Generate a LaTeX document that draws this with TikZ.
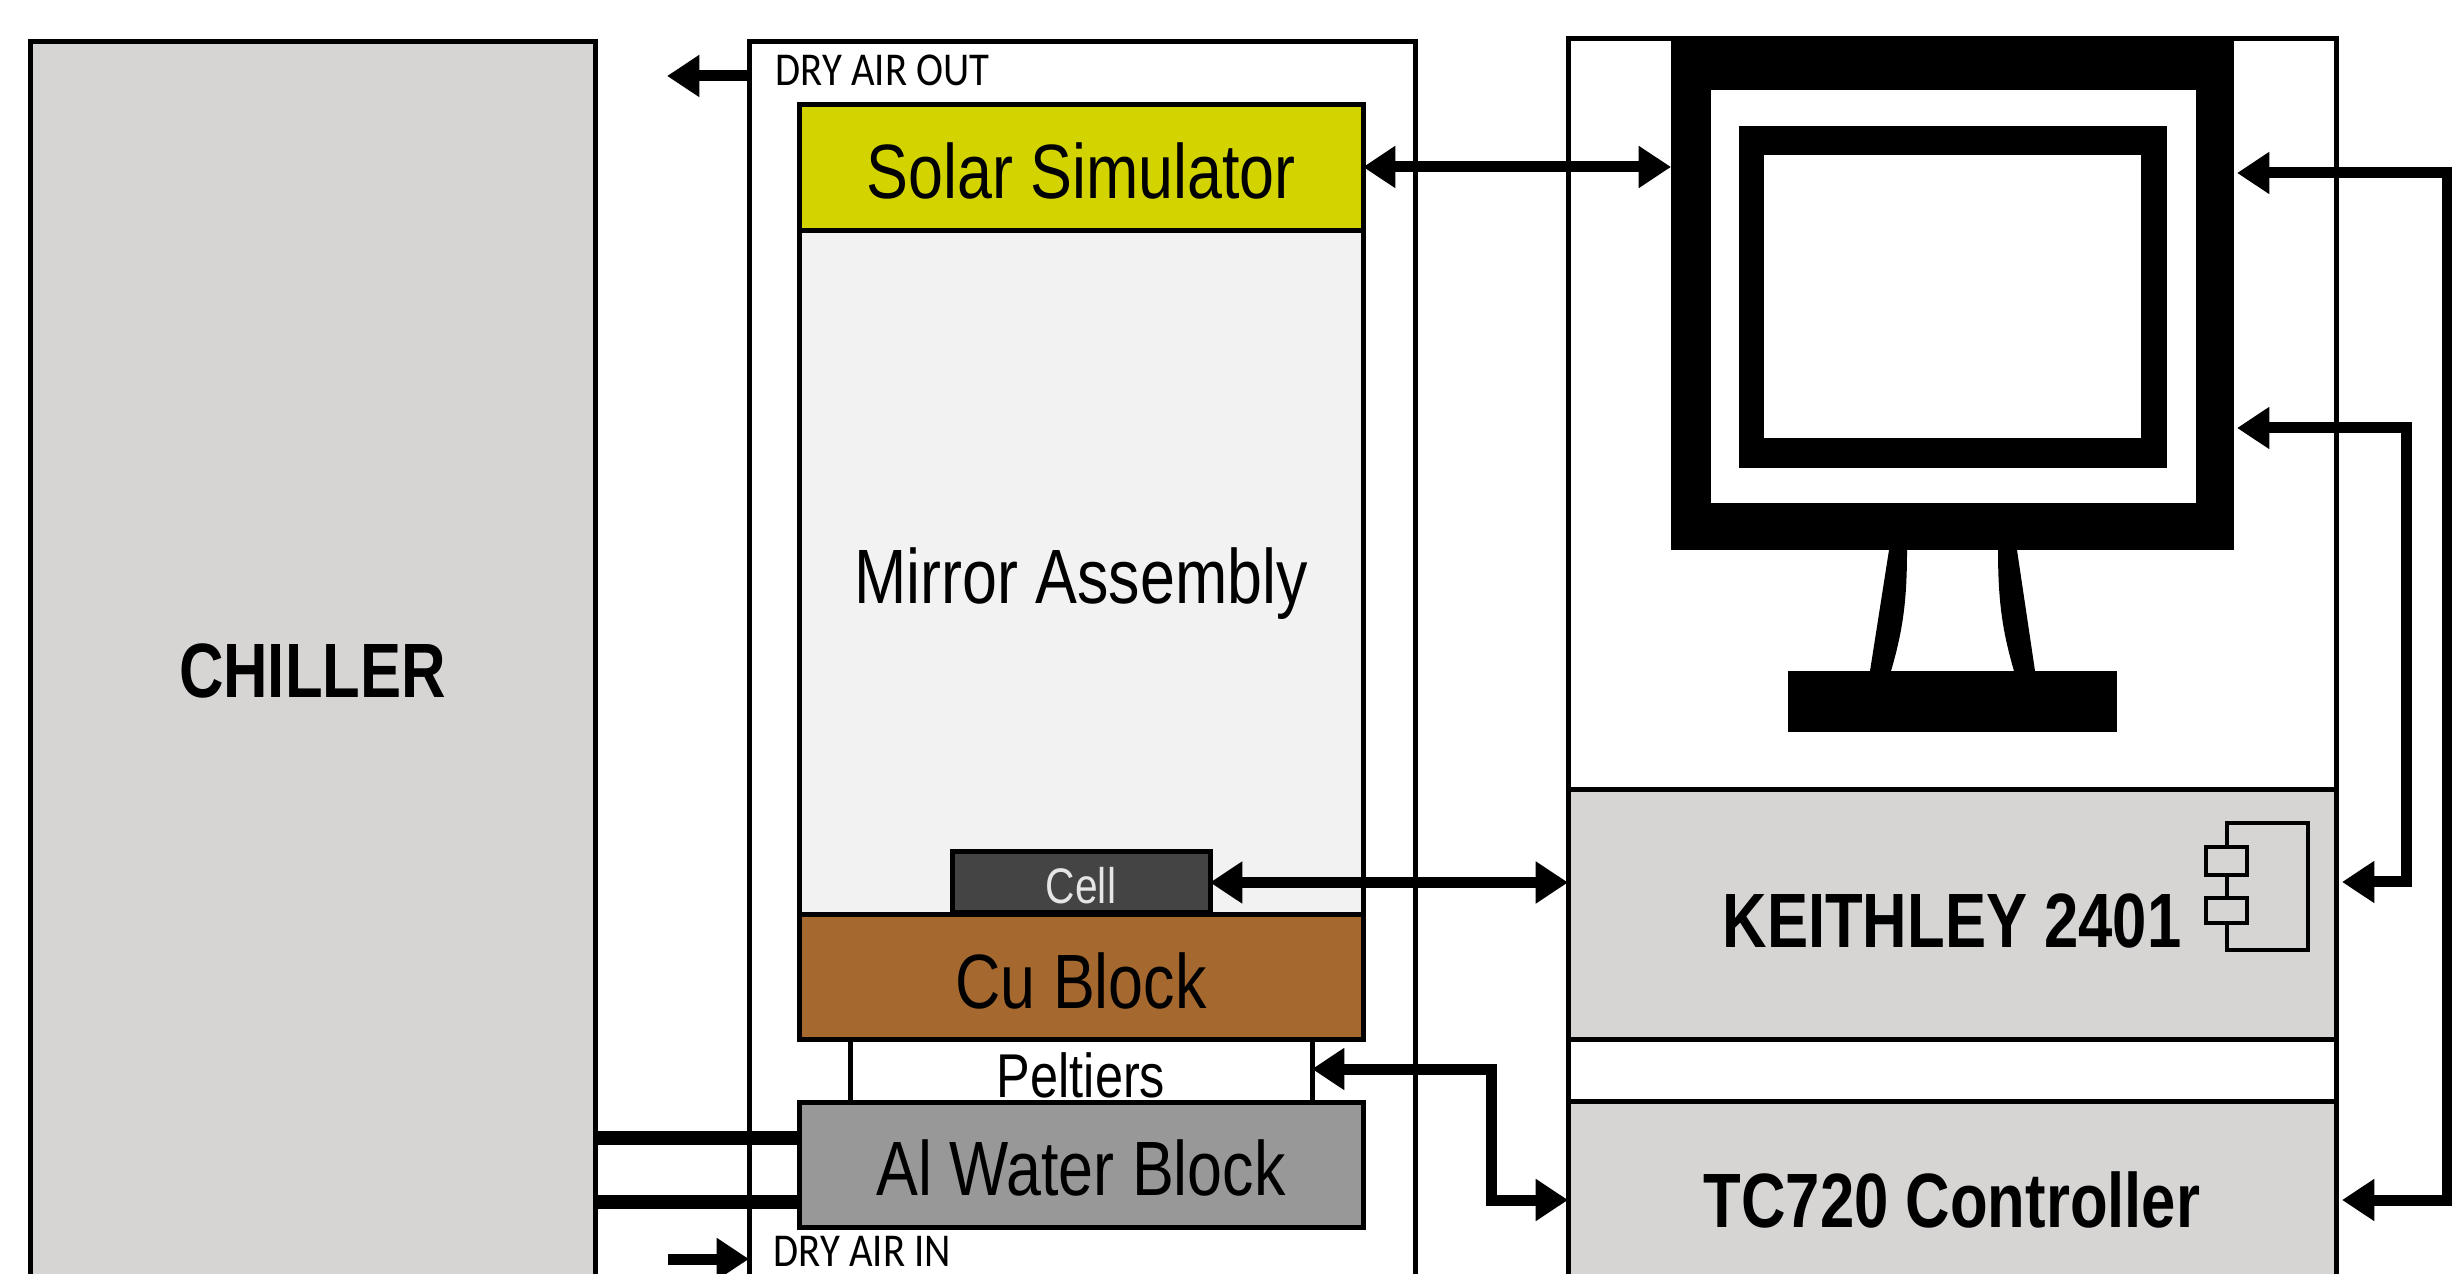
\documentclass[tikz,border=0pt]{standalone}
\usepackage{fontspec}
\usepackage{xcolor}
\usetikzlibrary{arrows.meta}

\newfontfamily\labelfont[FakeStretch=0.815]{Liberation Sans}
\newfontfamily\heavyfont[FakeStretch=0.8]{Liberation Sans Bold}
\newfontfamily\airfont[FakeStretch=0.865]{Carlito}

\definecolor{solaryellow}{HTML}{D3D300}
\definecolor{copper}{HTML}{A5682F}
\definecolor{mirrorgrey}{HTML}{F3F2F3}
\definecolor{paneltone}{HTML}{D7D4D4}
\definecolor{watergrey}{HTML}{989898}
\definecolor{celltone}{HTML}{444444}

\tikzset{
	block/.style = {draw, line width = 5*\px, inner sep = 0pt, outer sep = 0pt},
	solid part/.style = {fill = black, inner sep = 0pt, outer sep = 0pt},
	wire/.style = {line width = 11*\px, {Triangle[length=9.2pt,width=11.4pt]}-{Triangle[length=9.2pt,width=11.4pt]}},
	one way/.style = {line width = 11*\px, -{Triangle[length=9.2pt,width=11.4pt]}},
	pipe/.style = {line width = 14*\px},
	big label/.style = {font = \labelfont\fontsize{21.9}{24}\selectfont, text height = 62*\px, text depth = 0pt},
	heavy label/.style = {font = \heavyfont\fontsize{21.9}{24}\selectfont},
	air label/.style = {font = \airfont\fontsize{13.4}{15}\selectfont, inner sep = 0pt, anchor = west},
}

\begin{document}
\begin{tikzpicture}[x = 0.01cm, y = -0.01cm]
	\def\px{0.01cm};

	\clip (0,0) rectangle (2452,1274);

	% left side and chamber
	\node [block, fill = paneltone, heavy label, minimum width = 565*\px, minimum height = 1258*\px] (chiller) at (312.5,671) {CHILLER};
	\node [block, fill = white, minimum width = 666*\px, minimum height = 1258*\px] (chamber) at (1082,671) {};

	\node [block, fill = mirrorgrey, big label, minimum width = 564*\px, minimum height = 684*\px] (mirror) at (1081,573) {Mirror Assembly};
	\node [block, fill = solaryellow, big label, minimum width = 564*\px, minimum height = 126*\px] (solar) at (1081,168) {Solar Simulator};
	\node [block, fill = celltone, text = white!90!black, font = \labelfont\fontsize{14.2}{16}\selectfont, text height = 42*\px, text depth = 0pt, minimum width = 258*\px, minimum height = 61*\px] (cell) at (1081,882.5) {Cell};
	\node [block, fill = white, font = \labelfont\fontsize{17.6}{20}\selectfont, text height = 52*\px, text depth = 0pt, minimum width = 462*\px, minimum height = 62*\px] (peltiers) at (1081,1071) {Peltiers};
	\node [block, fill = copper, big label, minimum width = 564*\px, minimum height = 125*\px] (cu block) at (1081,977.5) {Cu Block};
	\node [block, fill = watergrey, big label, minimum width = 564*\px, minimum height = 125*\px] (water block) at (1081,1164.5) {Al Water Block};

	\node [air label] (air out label) at (775,70) {DRY AIR OUT};
	\node [air label] (air in label) at (773,1251) {DRY AIR IN};

	% computer and instruments
	\node [block, fill = white, minimum width = 768*\px, minimum height = 1261*\px] (rack) at (1952,669.5) {};
	\node [block, fill = paneltone, heavy label, text height = 65*\px, text depth = 0pt, minimum width = 768*\px, minimum height = 250*\px] (keithley) at (1952,915) {KEITHLEY 2401};
	\node [block, fill = paneltone, heavy label, minimum width = 768*\px, minimum height = 198*\px] (tc720) at (1952,1200) {TC720 Controller};

	\node [solid part, minimum width = 563*\px, minimum height = 512*\px] (monitor) at (1952.5,294) {};
	\node [solid part, fill = white, minimum width = 485*\px, minimum height = 413*\px] (bezel) at (1953.5,296.5) {};
	\node [solid part, minimum width = 428*\px, minimum height = 342*\px] (frame) at (1953,297) {};
	\node [solid part, fill = white, minimum width = 377*\px, minimum height = 283*\px] (screen) at (1952.5,296.5) {};
	\node [solid part, minimum width = 329*\px, minimum height = 61*\px] (base) at (1952.5,701.5) {};

	\fill (1889,550) -- (1870,671) -- (1891,671) .. controls (1903,630) and (1907,600) .. (1907,550) -- cycle;
	\fill (2017,550) -- (2035,671) -- (2014,671) .. controls (2002,630) and (1998,600) .. (1998,550) -- cycle;

	% little component symbol
	\node [block, line width = 4*\px, minimum width = 81*\px, minimum height = 127*\px] (icon) at (2267.5,886.5) {};
	\node [block, line width = 4*\px, fill = paneltone, minimum width = 41*\px, minimum height = 28*\px] (port a) at (2226.5,861) {};
	\node [block, line width = 4*\px, fill = paneltone, minimum width = 41*\px, minimum height = 25*\px] (port b) at (2226.5,910.5) {};

	% connections
	\coordinate (air out) at (667,76);
	\coordinate (air in) at (668,1259);
	\coordinate (supply) at (700,1138);
	\coordinate (return) at (700,1202);
	\coordinate (pc drop) at (2447,173);
	\coordinate (smu drop) at (2406,428);
	\coordinate (smu port) at (2406,882);
	\coordinate (peltier bend) at (1491,1069);

	\draw [one way] (air out -| chamber.west) -- (air out);
	\draw [one way] (air in) -- (air in -| chamber.west);
	\draw [pipe] (supply -| chiller.east) -- (supply -| water block.west);
	\draw [pipe] (return -| chiller.east) -- (return -| water block.west);

	\draw [wire] (solar.east |- 0,167) -- (monitor.west |- 0,167);
	\draw [wire] (cell.east) -- (cell.east -| keithley.west);
	\draw [wire] (peltier bend -| peltiers.east) -- (peltier bend) |- (tc720.west);
	\draw [wire, shorten <= 3*\px, shorten >= 6*\px] (pc drop -| monitor.east) -- (pc drop) |- (tc720.east);
	\draw [wire, shorten <= 3*\px, shorten >= 6*\px] (smu drop -| monitor.east) -- (smu drop) -- (smu port) -- (smu port -| keithley.east);
\end{tikzpicture}
\end{document}
